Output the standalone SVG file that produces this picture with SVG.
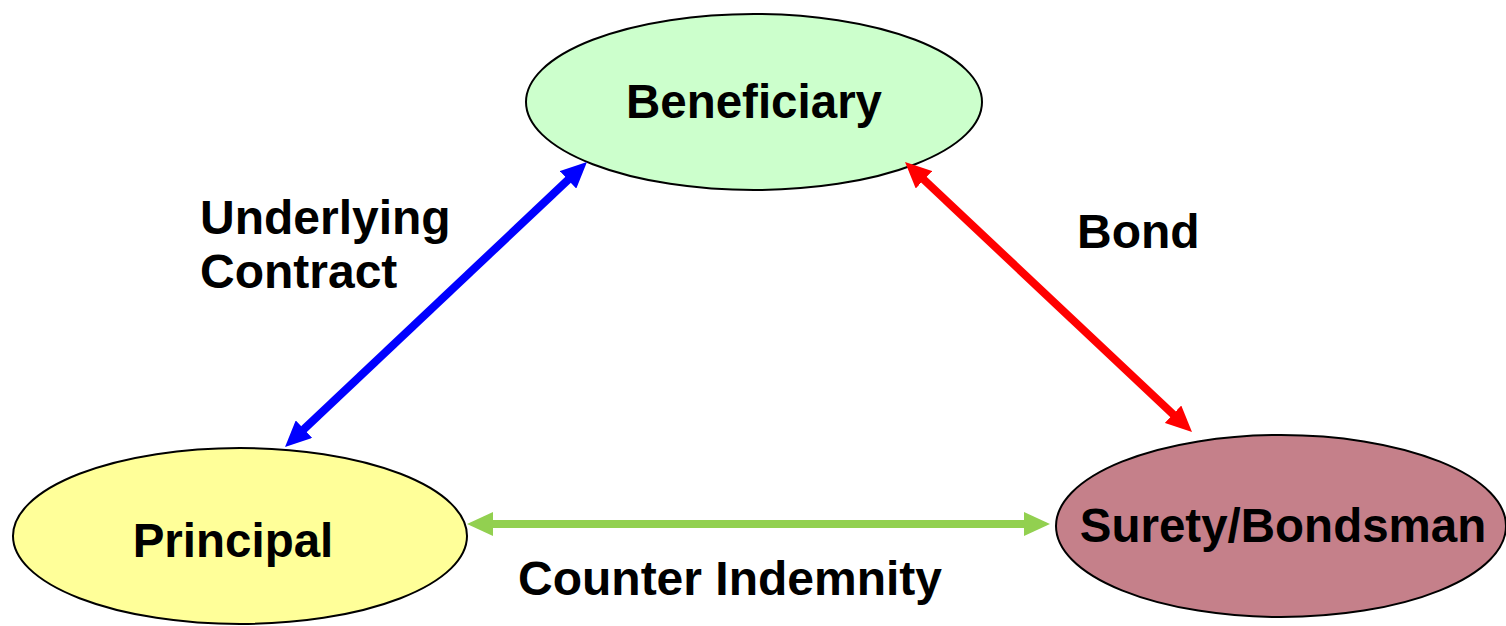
<svg xmlns="http://www.w3.org/2000/svg" width="1506" height="626" viewBox="0 0 1506 626">
  <style>
    .node { stroke: #000; stroke-width: 2; }
    .label { font-family: "Liberation Sans", Arial, sans-serif; font-weight: bold; font-size: 47.5px; fill: #000; }
    .edge-label { font-size: 48px; }
    .link { fill: none; stroke-width: 8; }
  </style>
  <defs>
    <marker id="head-blue" viewBox="0 -12 26 24" refX="2" refY="0" markerWidth="26" markerHeight="24" markerUnits="userSpaceOnUse" orient="auto-start-reverse">
      <path d="M0,-12 L26,0 L0,12 z" fill="#0000FF"/>
    </marker>
    <marker id="head-red" viewBox="0 -12 26 24" refX="2" refY="0" markerWidth="26" markerHeight="24" markerUnits="userSpaceOnUse" orient="auto-start-reverse">
      <path d="M0,-12 L26,0 L0,12 z" fill="#FF0000"/>
    </marker>
    <marker id="head-green" viewBox="0 -12 26 24" refX="2" refY="0" markerWidth="26" markerHeight="24" markerUnits="userSpaceOnUse" orient="auto-start-reverse">
      <path d="M0,-12 L26,0 L0,12 z" fill="#92D050"/>
    </marker>
  </defs>
  <rect width="1506" height="626" fill="#fff"/>

  <g id="beneficiary">
    <ellipse class="node" cx="754" cy="102" rx="228" ry="88" fill="#CCFFCC"/>
    <text class="label" x="754" y="118" text-anchor="middle">Beneficiary</text>
  </g>

  <g id="principal">
    <ellipse class="node" cx="240" cy="536" rx="227" ry="88" fill="#FFFF99"/>
    <text class="label" x="233" y="557" text-anchor="middle">Principal</text>
  </g>

  <g id="surety">
    <ellipse class="node" cx="1281" cy="526" rx="225" ry="91" fill="#C5808A"/>
    <text class="label" x="1283" y="542" text-anchor="middle">Surety/Bondsman</text>
  </g>

  <g id="connectors">
    <line class="link" x1="302.5" y1="430.5" x2="569.5" y2="178.5" stroke="#0000FF" marker-start="url(#head-blue)" marker-end="url(#head-blue)"/>
    <line class="link" x1="922.5" y1="178.4" x2="1174.5" y2="415.6" stroke="#FF0000" marker-start="url(#head-red)" marker-end="url(#head-red)"/>
    <line class="link" x1="491" y1="524" x2="1026" y2="524" stroke="#92D050" marker-start="url(#head-green)" marker-end="url(#head-green)"/>
    <text class="label edge-label" x="200" y="234">Underlying</text>
    <text class="label edge-label" x="200" y="288">Contract</text>
    <text class="label edge-label" x="1077" y="248">Bond</text>
    <text class="label edge-label" x="518" y="595">Counter Indemnity</text>
  </g>
</svg>
